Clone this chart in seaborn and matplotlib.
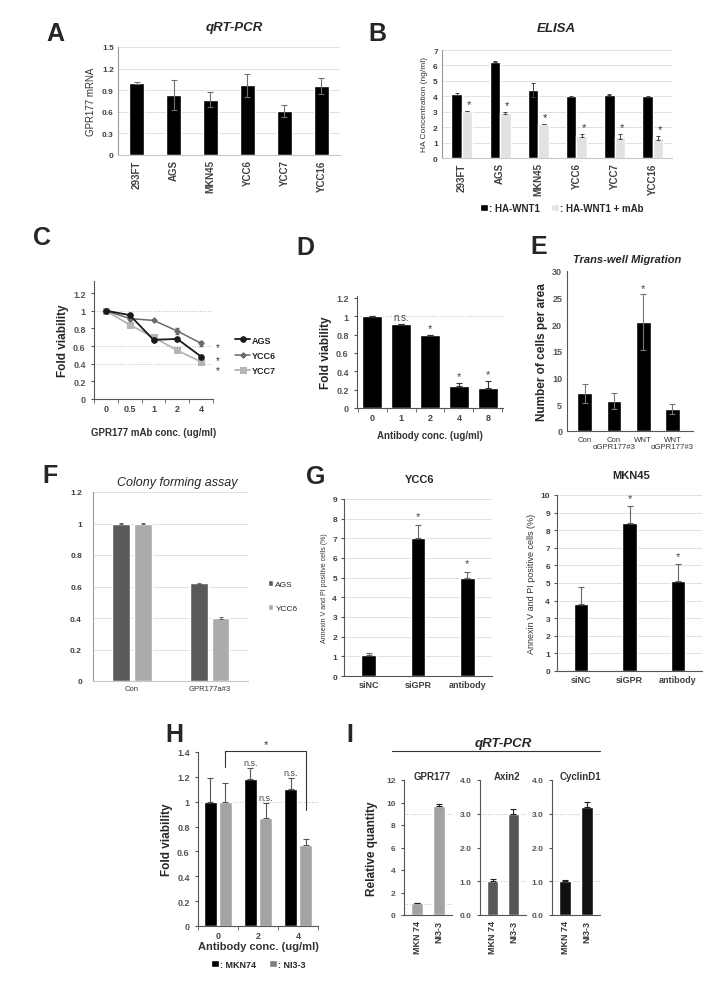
import numpy as np
import pandas as pd
import seaborn as sns
import matplotlib.pyplot as plt
from matplotlib.container import BarContainer
from matplotlib.lines import Line2D
from matplotlib.patches import Patch

# ---------------- data ----------------
# A: qRT-PCR
cell_lines = ['293FT', 'AGS', 'MKN45', 'YCC6', 'YCC7', 'YCC16']
gpr177_mrna = [1.00, 0.83, 0.77, 0.97, 0.61, 0.96]
gpr177_mrna_err = [0.01, 0.21, 0.11, 0.16, 0.08, 0.11]

# B: ELISA
elisa_groups = ['HA-WNT1', 'HA-WNT1 + mAb']
elisa_wnt = [4.15, 6.25, 4.40, 4.00, 4.10, 4.00]
elisa_wnt_err = [0.06, 0.03, 0.45, 0.03, 0.02, 0.03]
elisa_mab = [3.05, 2.90, 2.20, 1.45, 1.38, 1.32]
elisa_mab_err = [0.02, 0.08, 0.02, 0.12, 0.15, 0.13]

# C: viability vs mAb conc
conc_c = ['0', '0.5', '1', '2', '4']
via_ags = [1.00, 0.95, 0.67, 0.68, 0.48]
via_ycc6 = [1.00, 0.91, 0.89, 0.77, 0.63]
via_ycc6_err = [0.0, 0.01, 0.01, 0.03, 0.03]
via_ycc7 = [1.00, 0.84, 0.70, 0.55, 0.42]

# D: viability vs antibody conc
conc_d = ['0', '1', '2', '4', '8']
via_d = [1.00, 0.91, 0.79, 0.24, 0.22]
via_d_err = [0.0, 0.01, 0.01, 0.03, 0.07]
sig_d = ['', 'n.s.', '*', '*', '*']

# E: trans-well migration
mig_labels = ['Con', 'Con\nαGPR177#3', 'WNT', 'WNT\nαGPR177#3']
mig_cells = [7.1, 5.6, 20.4, 4.1]
mig_err = [1.8, 1.5, 5.2, 1.0]
sig_e = ['', '', '*', '']

# F: colony forming
colony_x = ['Con', 'GPR177a#3']
colony_lines = ['AGS', 'YCC6']
colony_ags = [1.00, 0.62]
colony_ycc6 = [1.00, 0.40]
colony_err = [0.003, 0.004]

# G: annexin V / PI
apop_x = ['siNC', 'siGPR', 'antibody']
apop_ycc6 = [1.05, 7.0, 5.0]
apop_ycc6_err = [0.12, 0.7, 0.3]
apop_mkn45 = [3.8, 8.4, 5.1]
apop_mkn45_err = [1.0, 1.0, 1.0]
sig_g = ['', '*', '*']

# H: viability MKN74 vs NI3-3
conc_h = ['0', '2', '4']
h_lines = ['MKN74', 'NI3-3']
via_mkn74 = [1.00, 1.18, 1.10]
via_mkn74_err = [0.19, 0.09, 0.09]
via_ni33 = [1.00, 0.87, 0.65]
via_ni33_err = [0.15, 0.12, 0.05]
sig_mkn74 = ['', 'n.s.', 'n.s.']
sig_ni33 = ['', 'n.s.', '']

# I: qRT-PCR
i_x = ['MKN 74', 'NI3-3']
i_genes = ['GPR177', 'Axin2', 'CyclinD1']
i_vals = [[1.05, 9.65], [1.00, 3.00], [1.00, 3.20]]
i_err = [[0.03, 0.2], [0.06, 0.13], [0.05, 0.16]]

# ---------------- figure ----------------
sns.set_style('white')
plt.rcParams['font.family'] = ['Liberation Sans', 'DejaVu Sans']
W, H = 726, 995
fig = plt.figure(figsize=(W / 100, H / 100), dpi=100)


def pax(x0, y0, x1, y1):
    # axes from pixel box (top-left origin)
    return fig.add_axes([x0 / W, 1 - y1 / H, (x1 - x0) / W, (y1 - y0) / H])


def ftext(x, y, s, **kw):
    fig.text(x / W, 1 - y / H, s, ha='center', va='center', **kw)


def bar_containers(ax):
    return [c for c in ax.containers if isinstance(c, BarContainer)]


def add_errors(ax, errs, upper_only=False, color='black', lw=0.8, cap=2):
    for cont, err in zip(bar_containers(ax), errs):
        for bar, e in zip(cont, err):
            x = bar.get_x() + bar.get_width() / 2
            y = bar.get_height()
            yerr = [[0], [e]] if upper_only else e
            ax.errorbar(x, y, yerr=yerr, color=color, lw=lw, capsize=cap,
                        capthick=lw, zorder=5)


def excel_style(ax):
    ax.yaxis.grid(True, color='#dcdcdc', lw=0.6)
    ax.set_axisbelow(True)
    for s in ['top', 'right']:
        ax.spines[s].set_visible(False)
    ax.spines['left'].set_color('#9a9a9a')
    ax.spines['left'].set_linewidth(0.8)
    ax.spines['bottom'].set_color('#c8c8c8')
    ax.spines['bottom'].set_linewidth(0.8)
    ax.tick_params(length=0, labelsize=6, colors='#404040', pad=3)


def plain_style(ax, labelsize=6.5):
    for s in ['top', 'right']:
        ax.spines[s].set_visible(False)
    for s in ['left', 'bottom']:
        ax.spines[s].set_color('#555555')
        ax.spines[s].set_linewidth(0.8)
    ax.tick_params(axis='y', length=2.5, direction='out', labelsize=labelsize,
                   colors='#555555', left=True)
    ax.tick_params(axis='x', labelsize=labelsize, colors='#333333', length=0)


def boundary_ticks(ax, n):
    ax.set_xticks(np.arange(-0.5, n), minor=True)
    ax.tick_params(axis='x', which='minor', length=3, direction='out',
                   color='#555555', bottom=True)


# panel letters
for lab, x, y in [('A', 55, 34), ('B', 377, 34), ('C', 42, 238), ('D', 305, 248),
                  ('E', 539, 247), ('F', 50, 476), ('G', 316, 477),
                  ('H', 174, 735), ('I', 350, 735)]:
    ftext(x, y, lab, fontsize=18, fontweight='bold')

# ---------------- A ----------------
ax = pax(118, 48, 340, 156)
sns.barplot(x=cell_lines, y=gpr177_mrna, color='black', width=0.4,
            saturation=1, errorbar=None, ax=ax)
add_errors(ax, [gpr177_mrna_err], color='#707070', lw=0.8, cap=2)
excel_style(ax)
ax.set_ylim(0, 1.5)
ax.set_xlim(-0.5, 5.5)
ax.set_yticks([0, 0.3, 0.6, 0.9, 1.2, 1.5])
ax.set_yticklabels(['0', '0.3', '0.6', '0.9', '1.2', '1.5'], fontweight='bold')
ax.set_xticks(range(len(cell_lines)))
ax.set_xticklabels(cell_lines, rotation=90, fontsize=7, fontweight='bold')
ax.set_ylabel('GPR177 mRNA', fontsize=7, color='#333333', labelpad=4)
ftext(234, 28, 'qRT-PCR', fontsize=9.5, fontweight='bold', style='italic')

# ---------------- B ----------------
ax = pax(442, 51, 672, 159)
df_b = pd.DataFrame({
    'line': cell_lines * 2,
    'group': [elisa_groups[0]] * 6 + [elisa_groups[1]] * 6,
    'conc': elisa_wnt + elisa_mab,
})
sns.barplot(data=df_b, x='line', y='conc', hue='group',
            palette=['black', '#e2e2e2'], width=0.55, saturation=1,
            errorbar=None, ax=ax)
conts = bar_containers(ax)
add_errors(ax, [elisa_wnt_err, elisa_mab_err], color='#444444', lw=0.7, cap=1.5)
for bar, v, e in zip(conts[1], elisa_mab, elisa_mab_err):
    ax.text(bar.get_x() + bar.get_width() / 2 + 0.05, v + e + 0.45, '*',
            ha='center', va='center', fontsize=8, color='#333333')
excel_style(ax)
ax.set_ylim(0, 7)
ax.set_xlim(-0.52, 5.5)
ax.set_yticks(range(8))
ax.set_yticklabels([str(i) for i in range(8)], fontweight='bold')
ax.set_xticks(range(len(cell_lines)))
ax.set_xticklabels(cell_lines, rotation=90, fontsize=7, fontweight='bold')
ax.set_xlabel('')
ax.set_ylabel('HA Concentration (ng/ml)', fontsize=6, color='#333333', labelpad=4)
hb = [Patch(facecolor='black'), Patch(facecolor='#e2e2e2')]
ax.legend(hb, [': ' + g for g in elisa_groups], loc='center',
          bbox_to_anchor=(0.52, -0.46), ncol=2, frameon=False,
          handlelength=0.8, handleheight=0.8, handletextpad=0.1,
          columnspacing=1.2, prop={'weight': 'bold', 'size': 7})
ftext(556, 29, 'ELISA', fontsize=9.5, fontweight='bold', style='italic')

# ---------------- C ----------------
ax = pax(94, 282, 213, 400)
xc = np.arange(len(conc_c))
for y in [1.0, 0.6, 0.4]:
    ax.axhline(y, color='#bbbbbb', lw=0.7, ls=':', zorder=0)
sns.lineplot(x=xc, y=via_ycc7, color='#b4b4b4', marker='s', markersize=4.5,
             markeredgecolor='#b4b4b4', lw=1.3, ax=ax, label='YCC7')
sns.lineplot(x=xc, y=via_ycc6, color='#6a6a6a', marker='D', markersize=2.8,
             markeredgecolor='#6a6a6a', lw=1.1, ax=ax, label='YCC6')
ax.errorbar(xc, via_ycc6, yerr=via_ycc6_err, fmt='none', ecolor='#6a6a6a',
            lw=0.7, capsize=1.5)
sns.lineplot(x=xc, y=via_ags, color='#1a1a1a', marker='o', markersize=4,
             markeredgecolor='#1a1a1a', lw=1.3, ax=ax, label='AGS')
# asterisks beside the last points, nudged apart so they do not collide
for y, dy in [(via_ycc6[-1], -0.04), (via_ags[-1], -0.04), (via_ycc7[-1], -0.09)]:
    ax.text(4.72, y + dy, '*', ha='center', va='center', fontsize=7, color='#333333')
plain_style(ax, labelsize=6.5)
boundary_ticks(ax, len(conc_c))
ax.set_xlim(-0.5, 4.5)
ax.set_ylim(0, 1.336)
ax.set_xticks(xc)
ax.set_xticklabels(conc_c, fontweight='bold', color='#444444')
ax.set_yticks([0, 0.2, 0.4, 0.6, 0.8, 1.0, 1.2])
ax.set_yticklabels(['0', '0.2', '0.4', '0.6', '0.8', '1', '1.2'], fontweight='bold')
ax.set_ylabel('Fold viability', fontsize=8.5, fontweight='bold', labelpad=3)
ax.set_xlabel('GPR177 mAb conc. (ug/ml)', fontsize=7, fontweight='bold',
              color='#333333', labelpad=10)
handles, labels = ax.get_legend_handles_labels()
order = [labels.index(n) for n in ['AGS', 'YCC6', 'YCC7']]
ax.legend([handles[i] for i in order], [labels[i] for i in order],
          loc='center left', bbox_to_anchor=(1.12, 0.37), frameon=False,
          handlelength=1.6, handletextpad=0.2, labelspacing=0.7,
          prop={'weight': 'bold', 'size': 6.5})

# ---------------- D ----------------
ax = pax(357, 297, 503, 409)
ax.axhline(1.0, color='#bbbbbb', lw=0.7, ls=':', zorder=0)
sns.barplot(x=conc_d, y=via_d, color='black', width=0.7, saturation=1,
            errorbar=None, ax=ax)
add_errors(ax, [via_d_err], upper_only=True, color='#333333', lw=0.8, cap=2)
for i, (v, e, s) in enumerate(zip(via_d, via_d_err, sig_d)):
    if s:
        ax.text(i, v + e + 0.02, s, ha='center', va='bottom',
                fontsize=7 if s == 'n.s.' else 8, color='#444444')
plain_style(ax, labelsize=6.5)
boundary_ticks(ax, len(conc_d))
ax.set_xlim(-0.52, 4.52)
ax.set_ylim(0, 1.22)
ax.set_yticks([0, 0.2, 0.4, 0.6, 0.8, 1.0, 1.2])
ax.set_yticklabels(['0', '0.2', '0.4', '0.6', '0.8', '1', '1.2'], fontweight='bold')
ax.set_xticks(range(len(conc_d)))
ax.set_xticklabels(conc_d, fontweight='bold', color='#444444')
ax.set_ylabel('Fold viability', fontsize=8.5, fontweight='bold', labelpad=3)
ax.set_xlabel('Antibody conc. (ug/ml)', fontsize=7, fontweight='bold',
              color='#333333', labelpad=6)

# ---------------- E ----------------
ax = pax(567, 272, 693, 432)
sns.barplot(x=mig_labels, y=mig_cells, color='black', width=0.5, saturation=1,
            errorbar=None, ax=ax)
add_errors(ax, [mig_err], color='#777777', lw=0.8, cap=2)
for i, (v, e, s) in enumerate(zip(mig_cells, mig_err, sig_e)):
    if s:
        ax.text(i, v + e + 1.2, s, ha='center', va='center', fontsize=8, color='#444444')
plain_style(ax, labelsize=6.5)
ax.tick_params(axis='y', length=0)
ax.set_xlim(-0.6, 3.7)
ax.set_ylim(0, 30)
ax.set_yticks(range(0, 31, 5))
ax.set_yticklabels([str(i) for i in range(0, 31, 5)], fontweight='bold')
ax.set_xticks(range(len(mig_labels)))
ax.set_xticklabels(mig_labels, fontsize=5.6, linespacing=0.95)
ax.set_ylabel('Number of cells per area', fontsize=8.5, fontweight='bold', labelpad=3)
ftext(627, 260, 'Trans-well Migration', fontsize=8, fontweight='bold', style='italic')

# ---------------- F ----------------
ax = pax(93, 493, 248, 682)
df_f = pd.DataFrame({
    'x': colony_x * 2,
    'line': [colony_lines[0]] * 2 + [colony_lines[1]] * 2,
    'v': colony_ags + colony_ycc6,
})
sns.barplot(data=df_f, x='x', y='v', hue='line', palette=['#5a5a5a', '#ababab'],
            width=0.56, gap=0.2, saturation=1, errorbar=None, ax=ax)
add_errors(ax, [colony_err, colony_err], color='#555555', lw=0.6, cap=1.5)
excel_style(ax)
ax.set_xlim(-0.5, 1.49)
ax.set_ylim(0, 1.2)
ax.set_yticks([0, 0.2, 0.4, 0.6, 0.8, 1.0, 1.2])
ax.set_yticklabels(['0', '0.2', '0.4', '0.6', '0.8', '1', '1.2'], fontweight='bold')
ax.tick_params(axis='y', pad=8)
ax.set_xticks(range(len(colony_x)))
ax.set_xticklabels(colony_x, fontsize=5.5, color='#333333')
ax.set_xlabel('')
ax.set_ylabel('')
hf = [Patch(facecolor='#5a5a5a'), Patch(facecolor='#ababab')]
ax.legend(hf, colony_lines, loc='center left', bbox_to_anchor=(1.08, 0.45),
          frameon=False, handlelength=0.6, handleheight=0.7, handletextpad=0.3,
          labelspacing=1.9, prop={'size': 6})
ftext(177, 483, 'Colony forming assay', fontsize=9, style='italic')

# ---------------- G ----------------
for box, vals, errs, name, ymax, lsize in [
        ((344, 500, 492, 677), apop_ycc6, apop_ycc6_err, 'YCC6', 9, 5),
        ((557, 496, 702, 672), apop_mkn45, apop_mkn45_err, 'MKN45', 10, 6.5)]:
    ax = pax(*box)
    sns.barplot(x=apop_x, y=vals, color='black', width=0.3, saturation=1,
                errorbar=None, ax=ax)
    add_errors(ax, [errs], upper_only=True, color='#666666', lw=0.8, cap=2)
    for i, (v, e, s) in enumerate(zip(vals, errs, sig_g)):
        if s:
            ax.text(i, v + e + 0.45, s, ha='center', va='center', fontsize=8,
                    color='#444444')
    excel_style(ax)
    ax.spines['left'].set_color('#555555')
    ax.spines['bottom'].set_color('#555555')
    ax.tick_params(axis='y', length=2, direction='out', left=True, color='#555555')
    ax.set_xlim(-0.5, 2.5)
    ax.set_ylim(0, ymax)
    ax.set_yticks(range(ymax + 1))
    ax.set_yticklabels([str(i) for i in range(ymax + 1)], fontweight='bold')
    ax.set_xticks(range(len(apop_x)))
    ax.set_xticklabels(apop_x, fontsize=6.5, fontweight='bold')
    ax.set_ylabel('Annexin V and PI positive cells (%)', fontsize=lsize,
                  color='#333333', labelpad=3)
    cx = (box[0] + box[2]) / 2 + 2
    ftext(cx, box[1] - 20, name, fontsize=8, fontweight='bold')

# ---------------- H ----------------
ax = pax(198, 753, 318, 927)
ax.axhline(1.0, color='#bbbbbb', lw=0.7, ls=':', zorder=0)
df_h = pd.DataFrame({
    'conc': conc_h * 2,
    'line': [h_lines[0]] * 3 + [h_lines[1]] * 3,
    'v': via_mkn74 + via_ni33,
})
sns.barplot(data=df_h, x='conc', y='v', hue='line', palette=['black', '#a3a3a3'],
            width=0.75, gap=0.12, saturation=1, errorbar=None, ax=ax)
conts = bar_containers(ax)
add_errors(ax, [via_mkn74_err, via_ni33_err], upper_only=True, color='#555555',
           lw=0.8, cap=2)
for cont, vals, errs, sigs in [(conts[0], via_mkn74, via_mkn74_err, sig_mkn74),
                               (conts[1], via_ni33, via_ni33_err, sig_ni33)]:
    for bar, v, e, s in zip(cont, vals, errs, sigs):
        if s:
            ax.text(bar.get_x() + bar.get_width() / 2, v + e + 0.01, s,
                    ha='center', va='bottom', fontsize=6.5, color='#444444')
xl = conts[1][0].get_x() + conts[1][0].get_width() / 2
xr = conts[1][2].get_x() + conts[1][2].get_width() / 2
ax.plot([xl, xl, xr, xr], [1.28, 1.405, 1.405, 0.93], color='#333333', lw=0.8,
        clip_on=False)
ax.text((xl + xr) / 2, 1.46, '*', ha='center', va='center', fontsize=8, color='#333333')
plain_style(ax, labelsize=6.5)
boundary_ticks(ax, len(conc_h))
ax.set_xlim(-0.5, 2.5)
ax.set_ylim(0, 1.4)
ax.set_yticks([0, 0.2, 0.4, 0.6, 0.8, 1.0, 1.2, 1.4])
ax.set_yticklabels(['0', '0.2', '0.4', '0.6', '0.8', '1', '1.2', '1.4'], fontweight='bold')
ax.set_xticks(range(len(conc_h)))
ax.set_xticklabels(conc_h, fontweight='bold', color='#444444')
ax.set_ylabel('Fold viability', fontsize=8.5, fontweight='bold', labelpad=3)
ax.set_xlabel('Antibody conc. (ug/ml)', fontsize=8, fontweight='bold',
              color='#333333', labelpad=1)
hh = [Patch(facecolor='black'), Patch(facecolor='#808080')]
ax.legend(hh, [': ' + n for n in h_lines], loc='center', bbox_to_anchor=(0.5, -0.22),
          ncol=2, frameon=False, handlelength=0.9, handleheight=0.9,
          handletextpad=0.1, columnspacing=1.4, prop={'weight': 'bold', 'size': 6.5})

# ---------------- I ----------------
ftext(503, 744, 'qRT-PCR', fontsize=9.5, fontweight='bold', style='italic')
fig.add_artist(Line2D([392 / W, 600 / W], [1 - 752 / H, 1 - 752 / H],
                      color='#333333', lw=0.8))
i_boxes = [(404, 781, 452, 916), (480, 781, 526, 916), (552, 781, 600, 916)]
i_colors = ['#a3a3a3', '#575757', '#111111']
i_ylim = [12, 4, 4]
i_refs = [[1, 9], [1, 3], [1, 3]]
for k, gene in enumerate(i_genes):
    ax = pax(*i_boxes[k])
    for r in i_refs[k]:
        ax.axhline(r, color='#bbbbbb', lw=0.7, ls=':', zorder=0)
    sns.barplot(x=i_x, y=i_vals[k], color=i_colors[k], width=0.56, saturation=1,
                errorbar=None, ax=ax)
    add_errors(ax, [i_err[k]], upper_only=True, color='#222222', lw=0.8, cap=2)
    plain_style(ax, labelsize=6)
    ax.set_xlim(-0.6, 1.6)
    ax.set_ylim(0, i_ylim[k])
    if k == 0:
        ax.set_yticks(range(0, 13, 2))
        ax.set_yticklabels([str(i) for i in range(0, 13, 2)], fontweight='bold')
        ax.set_ylabel('Relative quantity', fontsize=8.5, fontweight='bold', labelpad=6)
    else:
        ax.set_yticks([0, 1, 2, 3, 4])
        ax.set_yticklabels(['0.0', '1.0', '2.0', '3.0', '4.0'], fontweight='bold')
    ax.set_xticks([0, 1])
    ax.set_xticklabels(i_x, rotation=90, fontsize=6.5, fontweight='bold')
    ftext((i_boxes[k][0] + i_boxes[k][2]) / 2 + 4, 777, gene, fontsize=7,
          fontweight='bold', color='#333333')

fig.savefig('out.png', dpi=100)
